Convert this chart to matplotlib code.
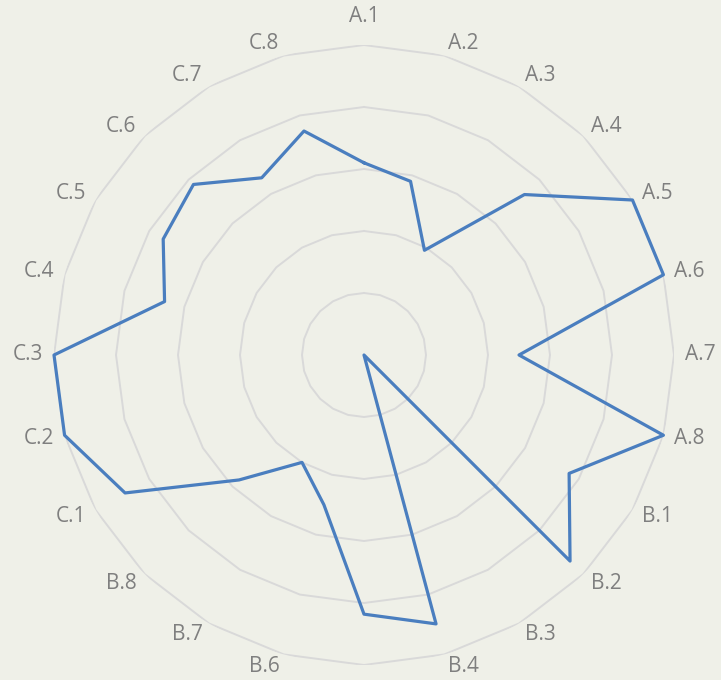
import numpy as np
import matplotlib.pyplot as plt

categories = ["A.%d" % i for i in range(1, 9)] + ["B.%d" % i for i in range(1, 9)] + ["C.%d" % i for i in range(1, 9)]
values = [3.1, 2.9, 1.95, 3.66, 5.0, 5.0, 2.5, 5.0,
          3.82, 4.7, 0.0, 4.49, 4.18, 2.5, 2.0, 2.85,
          4.45, 5.0, 5.0, 3.33, 3.74, 3.89, 3.3, 3.74]
ring_levels = [1, 2, 3, 4, 5]

bg = "#EFF0E8"
fig = plt.figure(figsize=(7.21, 6.8), dpi=100, facecolor=bg)
cx, cy, rad = 364, 680 - 355, 310
ax = fig.add_axes([(cx - rad) / 721, (cy - rad) / 680, 2 * rad / 721, 2 * rad / 680], polar=True)
ax.set_facecolor(bg)
ax.set_theta_zero_location("N")
ax.set_theta_direction(-1)
ax.set_ylim(0, 5)
ax.grid(False)
ax.set_xticks([])
ax.set_yticks([])
ax.spines["polar"].set_visible(False)

n = len(categories)
theta = np.arange(n) * 2 * np.pi / n
theta_closed = np.append(theta, theta[0])

# polygon gridlines
for lvl in ring_levels:
    ax.plot(theta_closed, [lvl] * (n + 1), color="#D9D9D9", lw=1.4, zorder=1)

vals_closed = values + [values[0]]
ax.plot(theta_closed, vals_closed, color="#4A7EBF", lw=2.3, zorder=3, clip_on=False)

# category labels, pushed out from the outer ring like excel does
# (the bottom one ends up below the canvas, same as the original)
for t, lab in zip(theta, categories):
    s, c = np.sin(t), np.cos(t)
    if abs(s) < 1e-6:
        dx, dy = 0, (29 if c > 0 else -45)
    else:
        dx = np.sign(s) * (17 + 9 * abs(s))
        dy = 13 * c
    ax.annotate(lab, xy=(t, 5), xytext=(dx, dy), textcoords="offset pixels",
                ha="center", va="center", fontsize=15, color="#7F7F7F",
                family="Open Sans", annotation_clip=False)

fig.savefig("out.png", dpi=100, facecolor=bg)
